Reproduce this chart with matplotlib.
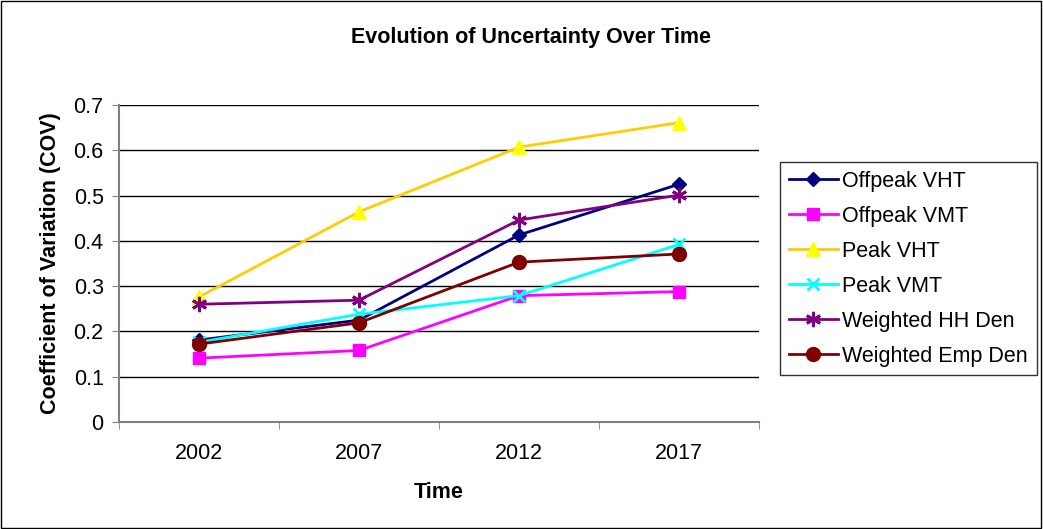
import numpy as np
import matplotlib.pyplot as plt
from matplotlib.patches import Rectangle

plt.rcParams['font.family'] = ['Liberation Sans', 'DejaVu Sans']

#Data
years = ['2002', '2007', '2012', '2017']
offpeak_vht = [0.181, 0.225, 0.413, 0.525]
offpeak_vmt = [0.141, 0.158, 0.279, 0.288]
peak_vht = [0.276, 0.464, 0.607, 0.661]
peak_vmt = [0.176, 0.238, 0.279, 0.392]
weighted_hh = [0.260, 0.269, 0.446, 0.501]
weighted_emp = [0.172, 0.219, 0.353, 0.371]

x = np.arange(len(years))
fs = 15.5

fig = plt.figure(figsize=(10.43, 5.29), dpi=100)
ax = fig.add_axes([119/1043, 1 - 422/529, 640/1043, 317/529])

#Outer chart border
fig.patches.append(Rectangle((0.001, 0.002), 0.997, 0.996, transform=fig.transFigure,
                             fill=False, edgecolor='black', linewidth=1))

#Series: (values, label, line colour, marker, marker colour, size)
series = [
    (offpeak_vht, 'Offpeak VHT', '#000080', 'D', '#000080', 7),
    (offpeak_vmt, 'Offpeak VMT', '#FF00FF', 's', '#FF00FF', 9),
    (peak_vht, 'Peak VHT', '#FFCC00', '^', '#FFFF00', 10),
    (peak_vmt, 'Peak VMT', '#00FFFF', 'x', '#00FFFF', 9),
    (weighted_hh, 'Weighted HH Den', '#800080', (6, 2, 0), '#800080', 11),
    (weighted_emp, 'Weighted Emp Den', '#800000', 'o', '#800000', 10),
]

for vals, label, col, mk, mcol, ms in series:
    ax.plot(x, vals, color=col, linewidth=2, marker=mk, markersize=ms,
            markerfacecolor=mcol, markeredgecolor=mcol, markeredgewidth=2 if mk in ('x', (6, 2, 0)) else 1,
            label=label, clip_on=False, zorder=3)

ax.set_xlim(-0.5, len(years) - 0.5)
ax.set_ylim(0, 0.7)
ax.set_yticks(np.arange(0, 0.71, 0.1))
ax.set_yticklabels(['0', '0.1', '0.2', '0.3', '0.4', '0.5', '0.6', '0.7'])
ax.set_xticks(x)
ax.set_xticklabels(years)
ax.set_xticks(np.arange(-0.5, len(years), 1), minor=True)
ax.tick_params(axis='x', which='major', length=0, labelsize=fs, pad=15)
ax.tick_params(axis='x', which='minor', length=5, direction='out', color='#808080')
ax.tick_params(axis='y', length=5, direction='out', labelsize=fs, color='#808080', pad=6)
ax.yaxis.grid(True, color='black', linewidth=1)
ax.set_axisbelow(True)
for s in ['top', 'right']:
    ax.spines[s].set_visible(False)
ax.spines['left'].set_color('#808080')
ax.spines['bottom'].set_color('#808080')
ax.spines['left'].set_linewidth(1.5)
ax.spines['bottom'].set_linewidth(1.5)

ax.set_xlabel('Time', fontsize=fs, fontweight='bold')
ax.set_ylabel('Coefficient of Variation (COV)', fontsize=fs, fontweight='bold')
ax.xaxis.set_label_coords(0.5, -0.19)
ax.yaxis.set_label_coords(-0.09, 0.5)
fig.text(531/1043, 1 - 37/529, 'Evolution of Uncertainty Over Time', ha='center', va='center',
         fontsize=fs, fontweight='bold')

leg = fig.legend(loc='upper left', bbox_to_anchor=(780/1043, 1 - 162/529), fontsize=fs,
                 frameon=True, fancybox=False, edgecolor='black', borderpad=0.4,
                 labelspacing=0.65, handlelength=2.3, handletextpad=0.2, borderaxespad=0)
leg.get_frame().set_linewidth(1)

fig.savefig('out.png', dpi=100)
